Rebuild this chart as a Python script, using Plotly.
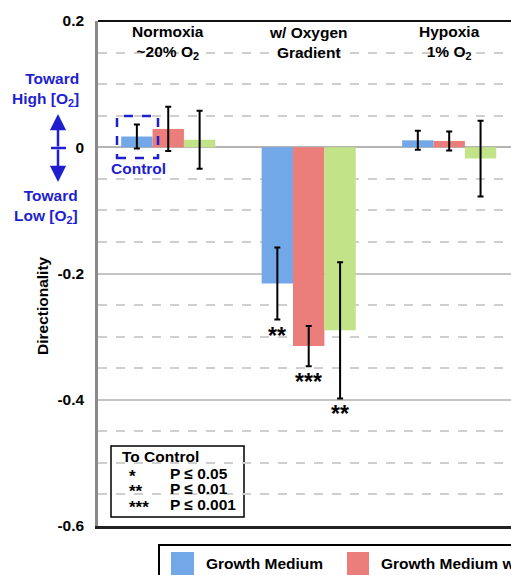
import plotly.graph_objects as go

# ---------------- data ----------------
categories = ["Normoxia ~20% O2", "w/ Oxygen Gradient", "Hypoxia 1% O2"]
category_labels = ["Normoxia<br>~20% O<sub>2</sub>", "w/ Oxygen<br>Gradient", "Hypoxia<br>1% O<sub>2</sub>"]
series_names = ["Growth Medium", "Growth Medium w/ Supplement", "Growth Medium w/ Supplement 2"]
growth_medium = [0.017, -0.216, 0.011]
growth_medium_err = [0.019, 0.057, 0.015]
medium_b = [0.029, -0.315, 0.010]
medium_b_err = [0.035, 0.032, 0.015]
medium_c = [0.012, -0.290, -0.018]
medium_c_err = [0.046, 0.108, 0.060]
significance = [["", "**", ""], ["", "***", ""], ["", "**", ""]]
y_ticks = [0.2, 0, -0.2, -0.4, -0.6]
y_tick_labels = ["0.2", "0", "-0.2", "-0.4", "-0.6"]
sig_rows = [("*", "P ≤ 0.05"), ("**", "P ≤ 0.01"), ("***", "P ≤ 0.001")]

colors = ["#72a8e8", "#eb7d7b", "#c2e388"]
values = [growth_medium, medium_b, medium_c]
errors = [growth_medium_err, medium_b_err, medium_c_err]

W, H = 511, 575
ML, MR, MT, MB = 98, 0, 21, 49
PW, PH = W - ML - MR, H - MT - MB
FONT = "Liberation Sans, Arial, sans-serif"
BLUE = "#1f1fd0"


def px(x):
    return (x - ML) / PW


def py(y):
    return (H - MB - y) / PH


def txt(x, y, text, size=15.5, color="black", xanchor="center", **kw):
    d = dict(x=px(x), y=py(y), xref="paper", yref="paper", text=text, showarrow=False,
             xanchor=xanchor, yanchor="middle", font=dict(size=size, color=color, family=FONT))
    d.update(kw)
    return d


fig = go.Figure()
for name, vals, errs, col in zip(series_names, values, errors, colors):
    fig.add_trace(go.Bar(
        x=categories, y=vals, name=name, marker=dict(color=col, line=dict(width=0)),
        error_y=dict(type="data", array=errs, visible=True, color="black", thickness=2, width=3),
        showlegend=False,
    ))

annotations = []
# group labels
for i, lab in enumerate(category_labels):
    annotations.append(dict(x=i, y=py(42.5), xref="x", yref="paper", text="<b>" + lab + "</b>",
                            showarrow=False, xanchor="center", yanchor="middle",
                            font=dict(size=15.5, color="black", family=FONT)))

# significance stars
bar_w = (1 - 0.33) / 3
for s, (vals, errs) in enumerate(zip(values, errors)):
    for i in range(len(categories)):
        star = significance[s][i]
        if star:
            annotations.append(dict(x=i + (s - 1) * bar_w, y=vals[i] - errs[i], xref="x", yref="y",
                                    text="<b>" + star + "</b>", showarrow=False, xanchor="center",
                                    yanchor="top", yshift=-1,
                                    font=dict(size=23, color="black", family=FONT)))

# y-axis title
annotations.append(txt(42, 306, "<b>Directionality</b>", textangle=-90))

# blue direction labels
annotations.append(txt(46, 89, "<b>Toward<br>High [O<sub>2</sub>]</b>", color=BLUE, align="right"))
annotations.append(txt(46, 206, "<b>Toward<br>Low [O<sub>2</sub>]</b>", color=BLUE, align="right"))
annotations.append(txt(138, 168, "<b>Control</b>", color=BLUE))
for tip in (114, 182):
    annotations.append(dict(x=px(58), y=py(tip), xref="paper", yref="paper", ax=0, ay=148 - tip,
                            axref="pixel", ayref="pixel", text="", showarrow=True, arrowhead=2,
                            arrowsize=1.3, arrowwidth=2.5, arrowcolor=BLUE))

# significance key
annotations.append(txt(120, 456, "<b>To Control</b>", xanchor="left"))
for k, (st, pv) in enumerate(sig_rows):
    yy = 473 + 15.5 * k
    annotations.append(txt(127, yy + 3, "<b>" + st + "</b>", size=17, xanchor="left"))
    annotations.append(txt(168, yy, "<b>" + pv + "</b>", xanchor="left"))

# legend text
annotations.append(txt(204, 563, "<b>" + series_names[0] + "</b>", xanchor="left"))
annotations.append(txt(379, 563, "<b>" + series_names[1] + "</b>", xanchor="left"))

shapes = [
    # top border
    dict(type="line", xref="paper", yref="paper", x0=0, x1=1.05, y0=1, y1=1, line=dict(color="#111", width=2)),
    # arrow crossbar
    dict(type="line", xref="paper", yref="paper", x0=px(51), x1=px(66), y0=py(148), y1=py(148),
         line=dict(color=BLUE, width=2.5)),
    # control dashed box
    dict(type="rect", xref="paper", yref="paper", x0=px(117), x1=px(158), y0=py(158), y1=py(116),
         line=dict(color=BLUE, width=2.5, dash="dash")),
    # significance key box
    dict(type="rect", xref="paper", yref="paper", x0=px(111), x1=px(244), y0=py(517), y1=py(446),
         line=dict(color="black", width=1.5), fillcolor="white", layer="below"),
    # legend box
    dict(type="rect", xref="paper", yref="paper", x0=px(159), x1=px(700), y0=py(700), y1=py(545),
         line=dict(color="black", width=2), fillcolor="white"),
    dict(type="rect", xref="paper", yref="paper", x0=px(171), x1=px(194), y0=py(600), y1=py(552),
         line=dict(width=0), fillcolor=colors[0]),
    dict(type="rect", xref="paper", yref="paper", x0=px(347), x1=px(369), y0=py(600), y1=py(552),
         line=dict(width=0), fillcolor=colors[1]),
]

fig.update_layout(
    width=W, height=H,
    margin=dict(l=ML, r=MR, t=MT, b=MB, pad=0),
    paper_bgcolor="white", plot_bgcolor="white",
    barmode="group", bargap=0.33, bargroupgap=0,
    font=dict(family=FONT, size=15, color="black"),
    annotations=annotations, shapes=shapes,
    xaxis=dict(range=[-0.5, 2.44], showticklabels=False, ticks="", showgrid=False, zeroline=False,
               showline=True, linecolor="#222", linewidth=2.5),
    yaxis=dict(range=[-0.6, 0.2], tickvals=y_ticks, ticktext=["<b>" + t + "</b>" for t in y_tick_labels],
               tickfont=dict(size=15.5, color="black", family=FONT), ticks="", ticklabelstandoff=8,
               showgrid=True, gridcolor="#c4c4c4", gridwidth=1.5,
               zeroline=True, zerolinecolor="#b4b4b4", zerolinewidth=1.5,
               showline=True, linecolor="#8a8a8a", linewidth=2.5,
               minor=dict(dtick=0.05, tick0=0, showgrid=True, gridcolor="#cfcfcf", gridwidth=1.5, griddash="dash", ticks="")),
)

fig.write_html("out.html", config={"displayModeBar": False},
               post_script="document.body.style.margin='0';document.body.style.overflow='hidden';")
